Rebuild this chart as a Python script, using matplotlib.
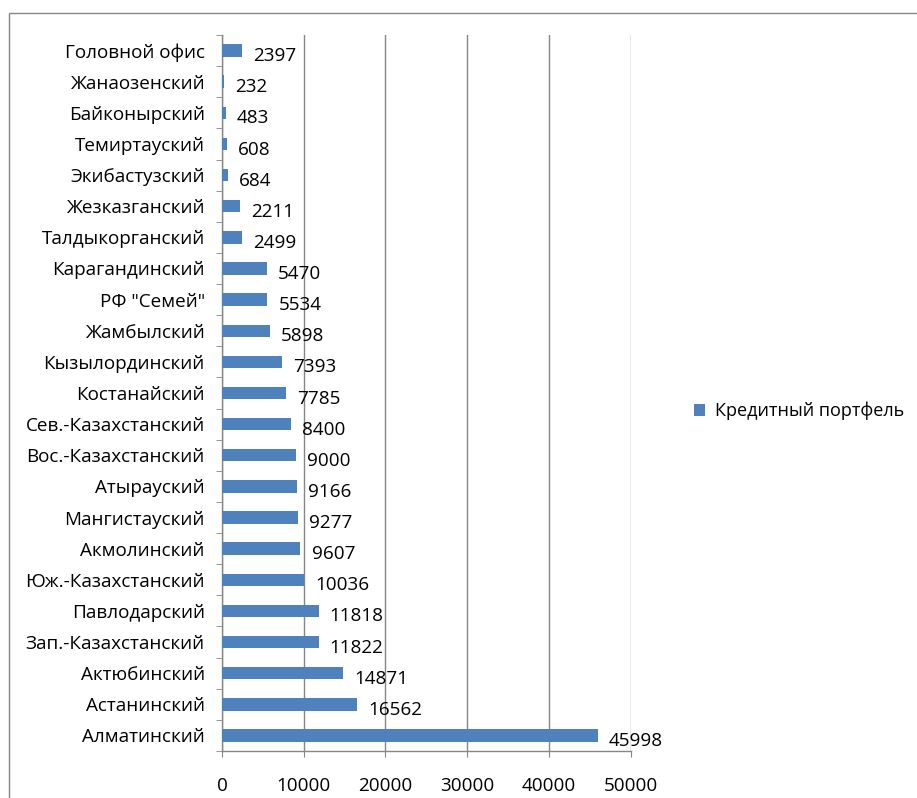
import matplotlib.pyplot as plt
from matplotlib.patches import Rectangle

# branch names, top to bottom as listed in the report
branches = ['Головной офис', 'Жанаозенский', 'Байконырский', 'Темиртауский',
            'Экибастузский', 'Жезказганский', 'Талдыкорганский', 'Карагандинский',
            'РФ "Семей"', 'Жамбылский', 'Кызылординский', 'Костанайский',
            'Сев.-Казахстанский', 'Вос.-Казахстанский', 'Атырауский',
            'Мангистауский', 'Акмолинский', 'Юж.-Казахстанский', 'Павлодарский',
            'Зап.-Казахстанский', 'Актюбинский', 'Астанинский', 'Алматинский']
portfolio = [2397, 232, 483, 608, 684, 2211, 2499, 5470, 5534, 5898, 7393,
             7785, 8400, 9000, 9166, 9277, 9607, 10036, 11818, 11822, 14871,
             16562, 45998]
x_ticks = [0, 10000, 20000, 30000, 40000, 50000]

FS = 13.6
plt.rcParams['font.family'] = ['Open Sans', 'DejaVu Sans']
plt.rcParams['font.size'] = FS

W, H = 917, 798
fig = plt.figure(figsize=(W / 100, H / 100), dpi=100)
ax = fig.add_axes([222 / W, 1 - 751 / H, (630.5 - 222) / W, (751 - 35) / H])

# bottom category drawn first so the list reads top-down
names = branches[::-1]
values = portfolio[::-1]
pos = list(range(len(names)))

blue = '#4F81BD'
grey = '#868686'
ax.barh(pos, values, height=0.4, color=blue, zorder=3, label='Кредитный портфель')

for p, v in zip(pos, values):
    ax.annotate(str(v), xy=(v, p), xytext=(8, -4), textcoords='offset points',
                ha='left', va='center', fontsize=FS, color='black',
                annotation_clip=False, zorder=4)

ax.set_xlim(0, 50000)
ax.set_ylim(-0.5, len(names) - 0.5)
ax.set_xticks(x_ticks)
ax.set_xticklabels([str(t) for t in x_ticks])
ax.set_yticks(pos)
ax.set_yticklabels(names)
ax.set_yticks([p - 0.5 for p in pos] + [len(names) - 0.5], minor=True)

ax.xaxis.grid(True, color=grey, linewidth=1.0, zorder=0)
ax.set_axisbelow(True)

for side in ['top', 'right']:
    ax.spines[side].set_visible(False)
for side in ['left', 'bottom']:
    ax.spines[side].set_color(grey)
    ax.spines[side].set_linewidth(1.0)

ax.tick_params(axis='y', which='major', length=0, pad=12.5)
ax.tick_params(axis='y', which='minor', length=4, color=grey, direction='out')
ax.tick_params(axis='x', which='major', length=4, color=grey, direction='out', pad=15)

# outer chart frame
fig.patches.append(Rectangle((9 / W, -0.1), 2.0, 1 - 13 / H + 0.1,
                             transform=fig.transFigure, fill=False,
                             edgecolor=grey, linewidth=1.0))

fig.legend(loc='center left', bbox_to_anchor=(694 / W, 1 - 411 / H),
           frameon=False, handlelength=0.6, handleheight=0.6,
           handletextpad=0.55, borderpad=0, borderaxespad=0, fontsize=13)

fig.savefig('out.png', dpi=100)
